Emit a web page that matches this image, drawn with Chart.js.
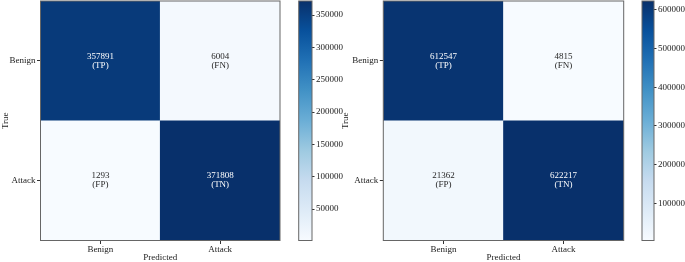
<!DOCTYPE html>
<html>
<head>
<meta charset="utf-8">
<script src="https://cdn.jsdelivr.net/npm/chart.js@4.4.1/dist/chart.umd.min.js"></script>
<style>
  body { margin: 0; background: #fff; }
  #wrap { position: relative; width: 685px; height: 262px; overflow: hidden; }
  canvas { position: absolute; top: 0; }
</style>
</head>
<body>
<div id="wrap">
  <canvas id="cmLeft" width="290" height="262" style="left:0px"></canvas>
  <canvas id="cbLeft" width="55" height="262" style="left:290px"></canvas>
  <canvas id="cmRight" width="290" height="262" style="left:340px"></canvas>
  <canvas id="cbRight" width="53" height="262" style="left:632px"></canvas>
</div>
<script>
// labels
const predLabels = ["Benign", "Attack"];
const trueLabels = ["Benign", "Attack"];
const cellCodes = [["(TP)", "(FN)"], ["(FP)", "(TN)"]];

// confusion matrices, rows = true, cols = predicted
const leftRowBenign = [357891, 6004];
const leftRowAttack = [1293, 371808];
const rightRowBenign = [612547, 4815];
const rightRowAttack = [21362, 622217];

// colorbar ticks
const leftCbTicks = [50000, 100000, 150000, 200000, 250000, 300000, 350000];
const rightCbTicks = [100000, 200000, 300000, 400000, 500000, 600000];

const FONT = "'Liberation Serif', 'Times New Roman', serif";
const blues = ["#f7fbff", "#deebf7", "#c6dbef", "#9ecae1", "#6baed6", "#4292c6", "#2171b5", "#08519c", "#08306b"];

function hexToRgb(h) {
  return [parseInt(h.slice(1, 3), 16), parseInt(h.slice(3, 5), 16), parseInt(h.slice(5, 7), 16)];
}

function bluesAt(t) {
  t = Math.max(0, Math.min(1, t));
  const p = t * (blues.length - 1);
  const i = Math.min(Math.floor(p), blues.length - 2);
  const f = p - i;
  const a = hexToRgb(blues[i]);
  const b = hexToRgb(blues[i + 1]);
  const c = a.map((v, k) => Math.round(v + (b[k] - v) * f));
  return "rgb(" + c.join(",") + ")";
}

// no extra room for half tick labels at the ends
function noPad(s) {
  s.paddingTop = 0;
  s.paddingBottom = 0;
}

const framePlugin = {
  id: "frame",
  afterDraw(chart) {
    const a = chart.chartArea;
    const ctx = chart.ctx;
    ctx.save();
    ctx.strokeStyle = "#666";
    ctx.lineWidth = 1;
    ctx.strokeRect(a.left, a.top, a.right - a.left, a.bottom - a.top);
    ctx.restore();
  },
};

const cellTextPlugin = {
  id: "cellText",
  afterDatasetsDraw(chart) {
    const ctx = chart.ctx;
    ctx.save();
    ctx.font = "9px " + FONT;
    ctx.textAlign = "center";
    ctx.textBaseline = "middle";
    chart.data.datasets.forEach((ds, di) => {
      const meta = chart.getDatasetMeta(di);
      meta.data.forEach((el, i) => {
        const v = ds.counts[i];
        const cy = (el.y + el.base) / 2;
        ctx.fillStyle = ds.textDark[i] ? "#262626" : "#ffffff";
        ctx.fillText(String(v), el.x, cy - 4.5);
        ctx.fillText(ds.codes[i], el.x, cy + 4.5);
      });
    });
    ctx.restore();
  },
};

function makeMatrix(id, rowBenign, rowAttack, yAxisWidth, padRight) {
  const all = rowBenign.concat(rowAttack);
  const vmin = Math.min(...all);
  const vmax = Math.max(...all);
  const norm = (v) => (v - vmin) / (vmax - vmin);
  const rowSet = (row, codes) => ({
    data: row.map(() => 1),
    counts: row,
    codes: codes,
    textDark: row.map((v) => norm(v) < 0.5),
    backgroundColor: row.map((v) => bluesAt(norm(v))),
    borderWidth: 0,
    barPercentage: 1,
    categoryPercentage: 1,
  });
  const ctx = document.getElementById(id).getContext("2d");
  return new Chart(ctx, {
    type: "bar",
    data: {
      labels: predLabels,
      datasets: [rowSet(rowAttack, cellCodes[1]), rowSet(rowBenign, cellCodes[0])],
    },
    options: {
      responsive: false,
      animation: false,
      layout: { padding: { top: 1, right: padRight, left: 0, bottom: 0 } },
      plugins: { legend: { display: false }, tooltip: { enabled: false } },
      scales: {
        x: {
          stacked: true,
          grid: { drawOnChartArea: false, drawTicks: true, tickLength: 3.5, color: "#333", offset: false },
          border: { display: false },
          ticks: { color: "#222", padding: 0.5, font: { family: FONT, size: 9 } },
          title: { display: true, text: "Predicted", color: "#222", padding: 0, font: { family: FONT, size: 9, lineHeight: 1 } },
          afterFit(s) { s.height = 21.5; },
        },
        y: {
          stacked: true,
          min: 0,
          max: 2,
          afterBuildTicks(s) { s.ticks = [{ value: 0.5 }, { value: 1.5 }]; },
          grid: { drawOnChartArea: false, drawTicks: true, tickLength: 3.5, color: "#333" },
          border: { display: false },
          ticks: {
            color: "#222",
            padding: 1.5,
            font: { family: FONT, size: 9 },
            callback: (v) => (v < 1 ? trueLabels[1] : trueLabels[0]),
          },
          title: { display: true, text: "True", color: "#222", padding: 0, font: { family: FONT, size: 9, lineHeight: 1.2 } },
          afterFit(s) { s.width = yAxisWidth; noPad(s); },
        },
      },
    },
    plugins: [cellTextPlugin, framePlugin],
  });
}

function makeColorbar(id, vmin, vmax, tickVals, padLeft, axisWidth) {
  const ctx = document.getElementById(id).getContext("2d");
  return new Chart(ctx, {
    type: "bar",
    data: {
      labels: [""],
      datasets: [{
        data: [[vmin, vmax]],
        borderWidth: 0,
        barPercentage: 1,
        categoryPercentage: 1,
        backgroundColor(c) {
          const a = c.chart.chartArea;
          if (!a) return blues[4];
          const g = c.chart.ctx.createLinearGradient(0, a.bottom, 0, a.top);
          blues.forEach((col, i) => g.addColorStop(i / (blues.length - 1), col));
          return g;
        },
      }],
    },
    options: {
      responsive: false,
      animation: false,
      layout: { padding: { top: 1, right: 0, left: padLeft, bottom: 21.5 } },
      plugins: { legend: { display: false }, tooltip: { enabled: false } },
      scales: {
        x: { display: false },
        y: {
          position: "right",
          min: vmin,
          max: vmax,
          afterBuildTicks(s) { s.ticks = tickVals.map((v) => ({ value: v })); },
          grid: { drawOnChartArea: false, drawTicks: true, tickLength: 2.5, color: "#333" },
          border: { display: false },
          ticks: { color: "#222", padding: 1.5, font: { family: FONT, size: 9 }, callback: (v) => String(v) },
          afterFit(s) { s.width = axisWidth; noPad(s); },
        },
      },
    },
    plugins: [framePlugin],
  });
}

const allL = leftRowBenign.concat(leftRowAttack);
const allR = rightRowBenign.concat(rightRowAttack);
makeMatrix("cmLeft", leftRowBenign, leftRowAttack, 40.5, 10);
makeColorbar("cbLeft", Math.min(...allL), Math.max(...allL), leftCbTicks, 8.7, 33);
makeMatrix("cmRight", rightRowBenign, rightRowAttack, 43.3, 6.3);
makeColorbar("cbRight", Math.min(...allR), Math.max(...allR), rightCbTicks, 10, 31);
</script>
</body>
</html>
